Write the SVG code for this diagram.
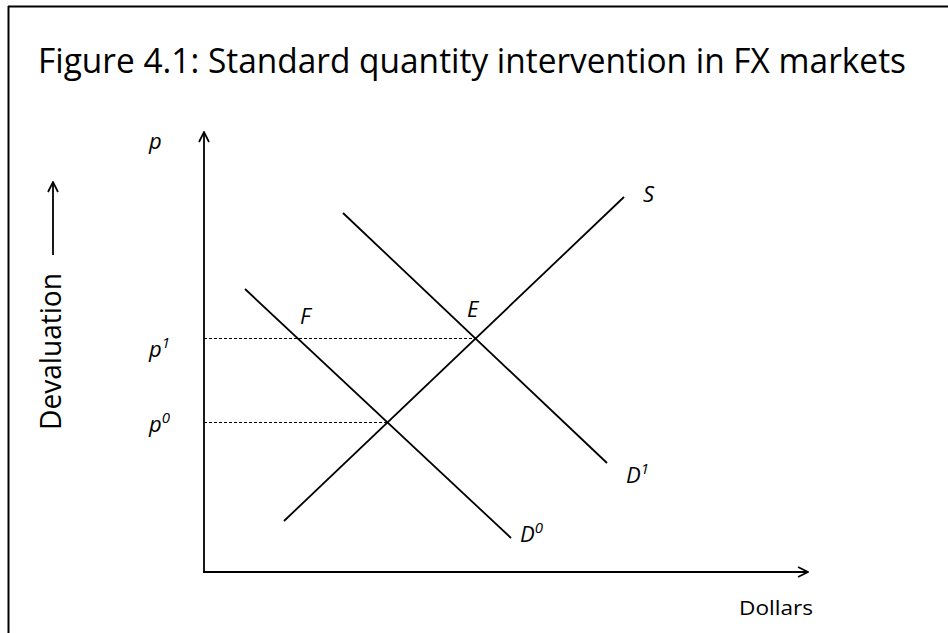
<svg xmlns="http://www.w3.org/2000/svg" width="948" height="633" viewBox="0 0 948 633">
<style>
.ln{stroke:#000;stroke-width:1.8;fill:none}
.ax{stroke:#000;stroke-width:1.8;fill:none}
.dash{stroke:#000;stroke-width:1;stroke-dasharray:3,2;fill:none}
.lbl{font-family:"Open Sans","Liberation Sans",sans-serif;font-style:italic;font-size:22px;fill:#000}
.sup{font-size:15px}
.txt{font-family:"Open Sans","Liberation Sans",sans-serif;fill:#000}
</style>
<defs>
<marker id="open" viewBox="0 0 12 12" refX="11" refY="6" markerWidth="12" markerHeight="12" markerUnits="userSpaceOnUse" orient="auto">
<path d="M1,1 L11,6 L1,11" fill="none" stroke="#000" stroke-width="1.7"/>
</marker>
</defs>
<rect width="948" height="633" fill="#fff"/>
<g id="frame">
<line x1="8" y1="6.5" x2="948" y2="6.5" stroke="#000" stroke-width="2"/>
<line x1="8.5" y1="6" x2="8.5" y2="633" stroke="#000" stroke-width="2"/>
</g>
<text id="title" class="txt" x="38" y="73" font-size="35" textLength="868" lengthAdjust="spacingAndGlyphs">Figure 4.1: Standard quantity intervention in FX markets</text>
<g id="devaluation">
<text class="txt" font-size="29" transform="translate(61,430) rotate(-90)" textLength="157" lengthAdjust="spacingAndGlyphs">Devaluation</text>
<line x1="53" y1="255" x2="53" y2="182" class="ax" marker-end="url(#open)"/>
</g>
<g id="axes">
<line x1="204" y1="572" x2="204" y2="132" class="ax" marker-end="url(#open)"/>
<line x1="203" y1="572" x2="808" y2="572" class="ax" marker-end="url(#open)"/>
</g>
<g id="connectors">
<line x1="204" y1="338.5" x2="476" y2="338.5" class="dash"/>
<line x1="204" y1="422.5" x2="387" y2="422.5" class="dash"/>
</g>
<g id="S"><line x1="284" y1="521" x2="624" y2="197" class="ln"/><text class="lbl" x="643" y="202">S</text></g>
<g id="D1"><line x1="343" y1="213" x2="607" y2="463" class="ln"/><text class="lbl" x="626" y="483">D<tspan class="sup" dy="-9">1</tspan></text></g>
<g id="D0"><line x1="245" y1="289" x2="511" y2="538" class="ln"/><text class="lbl" x="520" y="542">D<tspan class="sup" dy="-9">0</tspan></text></g>
<g id="E"><text class="lbl" x="467" y="317">E</text></g>
<g id="F"><text class="lbl" x="300" y="324">F</text></g>
<g id="p"><text class="lbl" x="149" y="149">p</text></g>
<g id="p1"><text class="lbl" x="149" y="357">p<tspan class="sup" dy="-9">1</tspan></text></g>
<g id="p0"><text class="lbl" x="149" y="432">p<tspan class="sup" dy="-9">0</tspan></text></g>
<text id="dollars" class="txt" x="739" y="615" font-size="20" textLength="74" lengthAdjust="spacingAndGlyphs">Dollars</text>
</svg>
